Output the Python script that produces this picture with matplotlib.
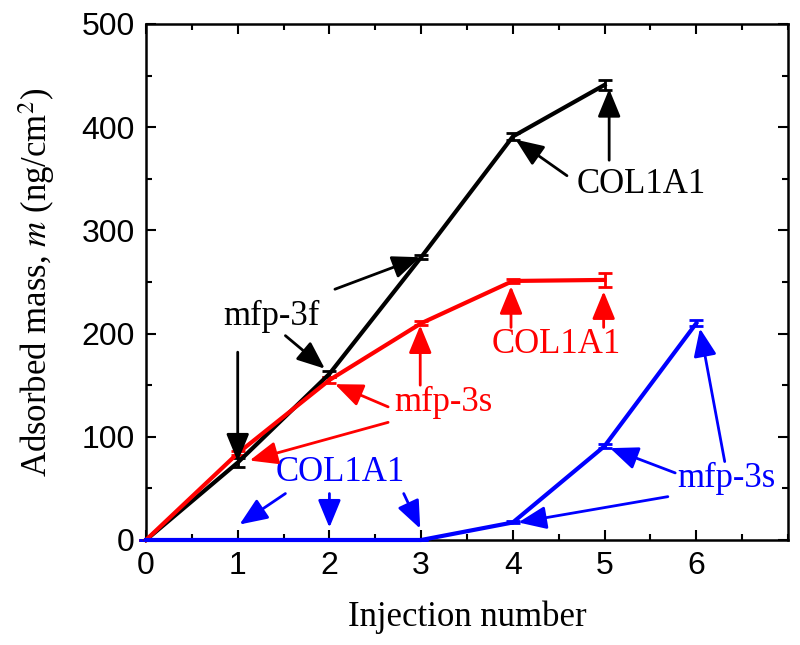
import numpy as np
import matplotlib
matplotlib.use("Agg")
import matplotlib.pyplot as plt
from matplotlib.ticker import MultipleLocator

# Datos
inj_black = [0, 1, 2, 3, 4, 5]
mass_black = [0, 75, 161, 274, 391, 441]
err_black = [0, 4, 3, 2, 3, 5]

inj_red = [0, 1, 2, 3, 4, 5]
mass_red = [0, 84, 155, 210, 251, 252]
err_red = [0, 2, 3, 2, 2, 7]

inj_blue = [0, 1, 2, 3, 4, 5, 6]
mass_blue = [0, 0, 0, 0, 17, 91, 210]
err_blue = [0, 0, 0, 0, 1, 2, 3]

plt.rcParams['mathtext.fontset'] = 'stix'
serif = 'Liberation Serif'
sans = 'Liberation Sans'
fs = 25

fig = plt.figure(figsize=(8, 6.45), dpi=100)
ax = fig.add_axes([0.1825, 0.1628, 0.8025, 0.80])

for x, y, e, c in [(inj_black, mass_black, err_black, 'black'),
                   (inj_red, mass_red, err_red, 'red'),
                   (inj_blue, mass_blue, err_blue, 'blue')]:
    ax.errorbar(x, y, yerr=e, color=c, lw=3, capsize=5, capthick=2,
                elinewidth=2, clip_on=False, zorder=3)

ax.set_xlim(0, 7)
ax.set_ylim(0, 500)
ax.xaxis.set_major_locator(MultipleLocator(1))
ax.xaxis.set_minor_locator(MultipleLocator(0.5))
ax.yaxis.set_major_locator(MultipleLocator(100))
ax.yaxis.set_minor_locator(MultipleLocator(50))
ax.set_xticks([0, 1, 2, 3, 4, 5, 6])
ax.tick_params(which='both', direction='in', top=True, right=True, width=1.5)
ax.tick_params(which='major', length=7, labelsize=23, pad=8)
ax.tick_params(which='minor', length=4.5)
for lab in ax.get_xticklabels() + ax.get_yticklabels():
    lab.set_fontfamily(sans)
for s in ax.spines.values():
    s.set_linewidth(1.8)

ax.set_xlabel("Injection number", fontsize=fs, family=serif, labelpad=14)
ax.set_ylabel(r"Adsorbed mass, $m$ (ng/cm$^2$)", fontsize=fs, family=serif, labelpad=18)


def flecha(txt_xy, tip_xy, color):
    ax.annotate("", xy=tip_xy, xytext=txt_xy,
                arrowprops=dict(arrowstyle="-|>,head_length=0.85,head_width=0.35",
                                color=color, lw=2, mutation_scale=20,
                                shrinkA=0, shrinkB=0), zorder=4)


# anotaciones negras
ax.text(1.37, 217, "mfp-3f", fontsize=fs, family=serif, ha='center', va='center')
flecha((2.06, 243), (2.99, 274), 'black')
flecha((1.52, 198), (1.95, 166), 'black')
flecha((1.0, 182), (1.0, 76), 'black')
ax.text(5.40, 344, "COL1A1", fontsize=fs, family=serif, ha='center', va='center')
flecha((4.59, 353), (4.03, 388), 'black')
flecha((5.05, 368), (5.05, 437), 'black')

# anotaciones rojas
ax.text(4.47, 189, "COL1A1", fontsize=fs, family=serif, color='red', ha='center', va='center')
flecha((3.98, 206), (3.98, 246), 'red')
flecha((4.99, 206), (4.99, 241), 'red')
ax.text(3.24, 133, "mfp-3s", fontsize=fs, family=serif, color='red', ha='center', va='center')
flecha((2.99, 150), (2.99, 208), 'red')
flecha((2.64, 129), (2.06, 151), 'red')
flecha((2.64, 114), (1.13, 77), 'red')

# anotaciones azules
ax.text(2.12, 65, "COL1A1", fontsize=fs, family=serif, color='blue', ha='center', va='center')
flecha((1.52, 45), (1.02, 15), 'blue')
flecha((2.0, 45), (2.0, 12), 'blue')
flecha((2.81, 45), (2.99, 11), 'blue')
ax.text(6.33, 60, "mfp-3s", fontsize=fs, family=serif, color='blue', ha='center', va='center')
flecha((5.77, 65), (5.06, 89), 'blue')
flecha((5.69, 42), (4.06, 17), 'blue')
flecha((6.31, 76), (6.04, 205), 'blue')

fig.savefig("out.png", dpi=100)
